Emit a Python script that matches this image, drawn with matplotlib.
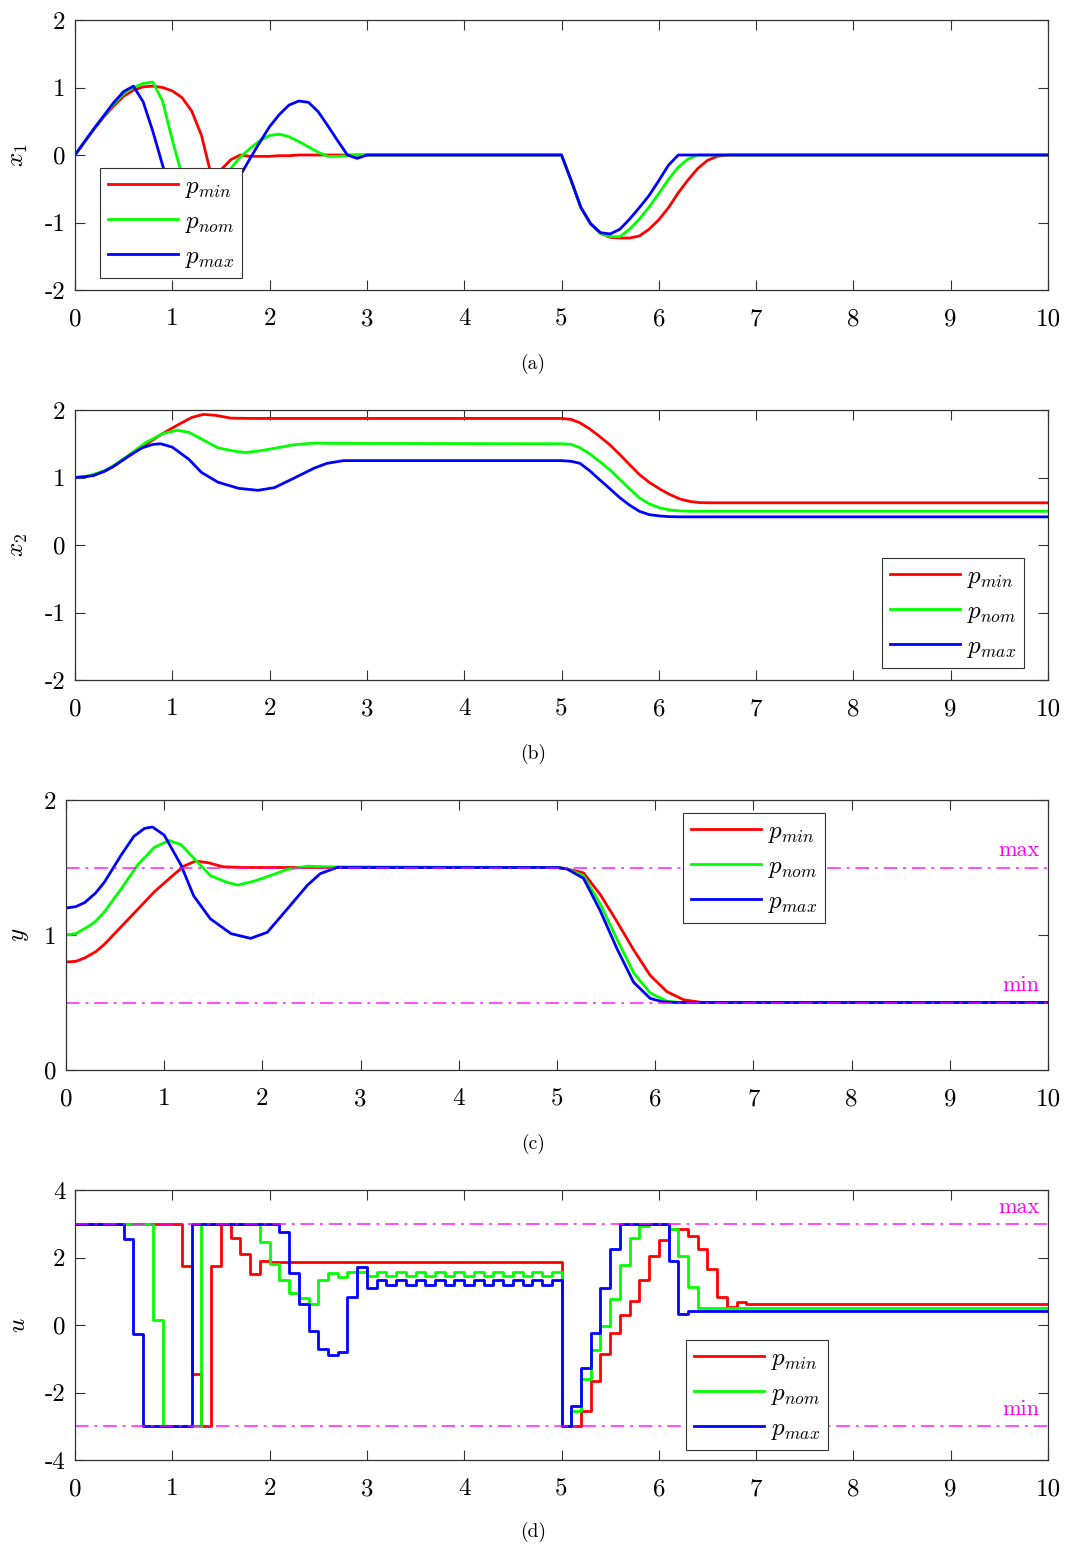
import numpy as np
import matplotlib
matplotlib.use("Agg")
from matplotlib import pyplot as plt

plt.rcParams['font.family'] = 'cmr10'
plt.rcParams['mathtext.fontset'] = 'cm'
plt.rcParams['axes.unicode_minus'] = False

# ---- data ----
# x1, sampled every 0.1 s on [0,3] and [5,7], then held to 10
t_x1 = np.round(np.r_[np.arange(0, 3.05, 0.1), np.arange(5.0, 7.05, 0.1), 10.0], 1)
x1_min = [0, 0.2, 0.39, 0.57, 0.73, 0.87, 0.96, 1.01, 1.02, 1.0, 0.95, 0.85, 0.65, 0.29, -0.3,
          -0.22, -0.07, 0.0, -0.02, -0.02, -0.02, -0.01, -0.01, 0, 0, 0, 0, 0, 0, 0, 0,
          0, -0.38, -0.78, -1.02, -1.16, -1.22, -1.23, -1.23, -1.2, -1.1, -0.96, -0.78, -0.56,
          -0.37, -0.2, -0.08, -0.02, 0, 0, 0, 0, 0]
x1_nom = [0, 0.2, 0.4, 0.58, 0.76, 0.91, 1.0, 1.06, 1.08, 0.8, 0.22, -0.3, -0.55, -0.6, -0.5,
          -0.35, -0.2, -0.03, 0.1, 0.21, 0.29, 0.31, 0.27, 0.2, 0.12, 0.04, -0.02, -0.02, -0.01, 0, 0,
          0, -0.38, -0.78, -1.02, -1.16, -1.21, -1.21, -1.1, -0.95, -0.77, -0.57, -0.36, -0.18,
          -0.06, 0, 0, 0, 0, 0, 0, 0, 0]
x1_max = [0, 0.2, 0.4, 0.59, 0.78, 0.94, 1.02, 0.79, 0.35, -0.15, -0.65, -1.0, -1.15, -1.05, -0.85,
          -0.65, -0.48, -0.3, -0.05, 0.19, 0.42, 0.6, 0.74, 0.8, 0.78, 0.64, 0.43, 0.21, 0.0, -0.05, 0.0,
          0, -0.38, -0.78, -1.02, -1.15, -1.17, -1.1, -0.95, -0.78, -0.6, -0.38, -0.15, 0,
          0, 0, 0, 0, 0, 0, 0, 0, 0]

# x2
t_x2_min = [0, 0.1, 0.19, 0.3, 0.39, 0.56, 0.73, 0.9, 1.07, 1.2, 1.32, 1.45, 1.6, 1.8,
            5.0, 5.1, 5.19, 5.29, 5.39, 5.5, 5.6, 5.7, 5.8, 5.9, 6.01, 6.11, 6.22, 6.32, 6.42, 6.55, 10]
x2_min = [1.0, 1.01, 1.04, 1.09, 1.16, 1.325, 1.49, 1.65, 1.79, 1.89, 1.935, 1.92, 1.88, 1.875,
          1.875, 1.86, 1.81, 1.72, 1.61, 1.48, 1.34, 1.19, 1.045, 0.93, 0.83, 0.75, 0.68, 0.645,
          0.628, 0.625, 0.625]
t_x2_nom = [0, 0.1, 0.22, 0.3, 0.39, 0.56, 0.73, 0.9, 1.05, 1.17, 1.3, 1.47, 1.64, 1.75, 1.92,
            2.08, 2.25, 2.46, 2.66, 5.0, 5.1, 5.19, 5.29, 5.39, 5.5, 5.6, 5.7, 5.8, 5.9, 6.01,
            6.11, 6.22, 6.35, 10]
x2_nom = [1.0, 1.01, 1.06, 1.1, 1.17, 1.34, 1.52, 1.65, 1.70, 1.67, 1.57, 1.44, 1.39, 1.37, 1.40,
          1.44, 1.485, 1.51, 1.505, 1.5, 1.49, 1.44, 1.35, 1.24, 1.11, 0.97, 0.83, 0.70, 0.61, 0.55,
          0.52, 0.505, 0.5, 0.5]
t_x2_max = [0, 0.1, 0.19, 0.3, 0.39, 0.56, 0.69, 0.8, 0.88, 1.0, 1.17, 1.3, 1.47, 1.68, 1.88,
            2.05, 2.25, 2.46, 2.59, 2.76, 5.0, 5.1, 5.19, 5.29, 5.39, 5.5, 5.6, 5.7, 5.8, 5.9,
            6.01, 6.11, 6.22, 10]
x2_max = [1.0, 1.01, 1.03, 1.09, 1.16, 1.325, 1.44, 1.49, 1.50, 1.45, 1.27, 1.075, 0.93, 0.84,
          0.81, 0.85, 0.99, 1.14, 1.21, 1.25, 1.25, 1.24, 1.21, 1.10, 0.97, 0.83, 0.70, 0.59,
          0.50, 0.45, 0.43, 0.42, 0.417, 0.417]

# y
t_y_min = [0, 0.1, 0.19, 0.3, 0.39, 0.56, 0.73, 0.9, 1.07, 1.2, 1.32, 1.45, 1.6, 1.8, 5.0, 5.1,
           5.27, 5.44, 5.61, 5.78, 5.95, 6.12, 6.29, 6.46, 6.6, 10]
y_min = [0.8, 0.805, 0.83, 0.875, 0.93, 1.06, 1.19, 1.32, 1.43, 1.51, 1.548, 1.535, 1.505, 1.5,
         1.5, 1.49, 1.46, 1.30, 1.10, 0.89, 0.70, 0.58, 0.52, 0.502, 0.5, 0.5]
t_y_nom = [0, 0.1, 0.22, 0.3, 0.39, 0.56, 0.73, 0.9, 1.05, 1.17, 1.3, 1.47, 1.64, 1.75, 1.92,
           2.08, 2.25, 2.46, 2.66, 5.0, 5.1, 5.27, 5.44, 5.61, 5.78, 5.95, 6.12, 6.26, 6.4, 10]
y_nom = [1.0, 1.01, 1.06, 1.1, 1.17, 1.34, 1.52, 1.65, 1.70, 1.67, 1.57, 1.44, 1.39, 1.37, 1.40,
         1.44, 1.485, 1.51, 1.505, 1.5, 1.49, 1.44, 1.23, 0.97, 0.72, 0.57, 0.51, 0.5, 0.5, 0.5]
t_y_max = [0, 0.1, 0.19, 0.3, 0.39, 0.56, 0.69, 0.8, 0.88, 1.0, 1.17, 1.3, 1.47, 1.68, 1.88,
           2.05, 2.25, 2.46, 2.59, 2.76, 5.0, 5.1, 5.27, 5.44, 5.61, 5.78, 5.95, 6.08, 6.2, 10]
y_max = [1.2, 1.21, 1.24, 1.31, 1.39, 1.59, 1.73, 1.79, 1.80, 1.74, 1.52, 1.29, 1.12, 1.01,
         0.975, 1.02, 1.19, 1.37, 1.455, 1.5, 1.5, 1.49, 1.42, 1.18, 0.90, 0.65, 0.53, 0.505,
         0.5, 0.5]

# u, piecewise constant every 0.1 s from 0 to 6.9, last value held to 10
t_u = np.round(np.arange(0, 7.0, 0.1), 1)
u_min = ([3] * 11 + [1.75, -1.45, -3, 1.75, 3, 2.57, 2.1, 1.52] + [1.91] + [1.88] * 30 +
         [-3, -3, -2.55, -1.65, -0.86, -0.25, 0.29, 0.7, 1.32, 2.04, 2.53, 2.84, 2.84, 2.63,
          2.24, 1.65, 0.83, 0.54, 0.67, 0.61])
u_nom = ([3] * 8 + [0.15] + [-3] * 4 + [3] * 6 +
         [2.47, 1.81, 1.32, 0.96, 0.8, 0.63, 1.32, 1.55, 1.42, 1.58, 1.56] + [1.45, 1.57] * 10 +
         [-3, -2.55, -1.6, -0.73, -0.02, 0.78, 1.79, 2.58, 2.94, 3, 3, 2.85, 2.04, 1.13, 0.51] +
         [0.51] * 5)
u_max = ([3] * 5 + [2.55, -0.27] + [-3] * 5 + [3] * 9 +
         [2.77, 1.55, 0.63, -0.18, -0.71, -0.9, -0.8, 0.83, 1.71, 1.1] + [1.32, 1.18] * 9 + [1.32] +
         [-3, -2.4, -1.27, -0.25, 1.1, 2.25, 3, 3, 3, 3, 3, 1.91, 0.34, 0.41] + [0.42] * 6)

y_lim_lo, y_lim_hi = 0.5, 1.5
u_lim_lo, u_lim_hi = -3, 3

labels = ['$p_{min}$', '$p_{nom}$', '$p_{max}$']
colors = ['#ff0000', '#00ff00', '#0000ff']
LW = 2.0
FS = 18

W, H = 1070, 1549
fig = plt.figure(figsize=(W / 100, H / 100), dpi=100)


def make_axes(left, top, right, bottom):
    return fig.add_axes([left / W, 1 - bottom / H, (right - left) / W, (bottom - top) / H])


def style(ax, yticks, ylabel, ylab_x):
    ax.set_xlim(0, 10)
    ax.set_ylim(yticks[0], yticks[-1])
    ax.set_xticks(range(11), [str(i) for i in range(11)])
    ax.set_yticks(yticks, [str(v) for v in yticks])
    ax.tick_params(direction='in', top=True, right=True, length=7, width=0.8,
                   labelsize=FS, color='0.2')
    ax.tick_params(axis='x', pad=13)
    ax.tick_params(axis='y', pad=7)
    for s in ax.spines.values():
        s.set_color('0.2')
        s.set_linewidth(0.9)
    ax.set_ylabel(ylabel, fontsize=FS)
    ax.yaxis.set_label_coords(ylab_x, 0.5)


def legend(ax, anchor, loc):
    leg = ax.legend(loc=loc, bbox_to_anchor=anchor, borderaxespad=0, fancybox=False,
                    framealpha=1, edgecolor='0.2', fontsize=FS, handlelength=2.8,
                    handletextpad=0.3, labelspacing=0.42, borderpad=0.3)
    leg.get_frame().set_linewidth(0.8)


def limit_line(ax, val, text):
    ax.axhline(val, color='#ff00ff', lw=1.4, alpha=0.7, ls=(0, (7, 3, 1.5, 3)))
    ax.annotate(text, xy=(1, val), xycoords=('axes fraction', 'data'), xytext=(-6, 8),
                textcoords='offset points', ha='right', va='baseline', color='#ff00ff',
                fontsize=16)


# (a) x1
ax = make_axes(75, 20, 1048, 290)
for v, c, lab in zip([x1_min, x1_nom, x1_max], colors, labels):
    ax.plot(t_x1, v, color=c, lw=LW, label=lab)
style(ax, [-2, -1, 0, 1, 2], '$x_1$', -0.046)
legend(ax, ((100 - 75) / 973, (290 - 168) / 270), 'upper left')

# (b) x2
ax = make_axes(75, 410, 1048, 680)
for t, v, c, lab in zip([t_x2_min, t_x2_nom, t_x2_max], [x2_min, x2_nom, x2_max], colors, labels):
    ax.plot(t, v, color=c, lw=LW, label=lab)
style(ax, [-2, -1, 0, 1, 2], '$x_2$', -0.046)
legend(ax, ((1024 - 75) / 973, (680 - 558) / 270), 'upper right')

# (c) y
ax = make_axes(66, 800, 1048, 1070)
for t, v, c, lab in zip([t_y_min, t_y_nom, t_y_max], [y_min, y_nom, y_max], colors, labels):
    ax.plot(t, v, color=c, lw=LW, label=lab)
limit_line(ax, y_lim_hi, 'max')
limit_line(ax, y_lim_lo, 'min')
style(ax, [0, 1, 2], '$y$', -0.036)
legend(ax, ((683 - 66) / 982, (1070 - 813) / 270), 'upper left')

# (d) u
ax = make_axes(75, 1190, 1048, 1460)
for v, c, lab in zip([u_min, u_nom, u_max], colors, labels):
    ax.step(np.r_[t_u, 10.0], list(v) + [v[-1]], where='post', color=c, lw=LW, label=lab)
limit_line(ax, u_lim_hi, 'max')
limit_line(ax, u_lim_lo, 'min')
style(ax, [-4, -2, 0, 2, 4], '$u$', -0.046)
legend(ax, ((686 - 75) / 973, (1460 - 1340) / 270), 'upper left')

for txt, yc in zip(['(a)', '(b)', '(c)', '(d)'], [364, 754, 1144, 1532]):
    fig.text(533 / W, 1 - yc / H, txt, ha='center', va='center', fontsize=14)

fig.savefig('out.png', dpi=100)
